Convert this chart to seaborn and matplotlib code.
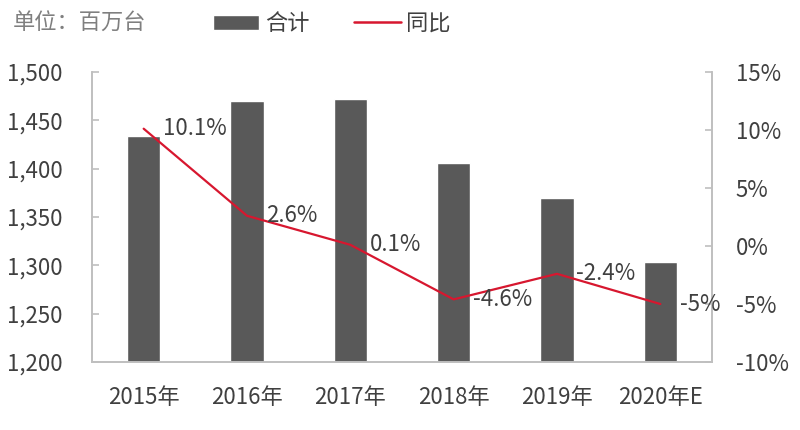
import matplotlib
matplotlib.use("Agg")
import matplotlib.pyplot as plt
import seaborn as sns
import pandas as pd
from matplotlib.lines import Line2D
from matplotlib.patches import Patch

years = ["2015年", "2016年", "2017年", "2018年", "2019年", "2020年E"]
totals = [1434, 1470, 1472, 1406, 1370, 1303]
yoy = [10.1, 2.6, 0.1, -4.6, -2.4, -5.0]
yoy_labels = ["10.1%", "2.6%", "0.1%", "-4.6%", "-2.4%", "-5%"]
left_ticks = [1200, 1250, 1300, 1350, 1400, 1450, 1500]
right_ticks = [-10, -5, 0, 5, 10, 15]

sns.set_theme(style="white")
plt.rcParams['font.family'] = ['Noto Sans CJK SC', 'DejaVu Sans']

txt = "#404040"
spine_c = "#BFBFBF"
bar_c = "#595959"
line_c = "#D7172F"
fs = 16

df = pd.DataFrame({"year": years, "total": totals, "yoy": yoy})

fig = plt.figure(figsize=(8, 4.3), dpi=100)
ax = fig.add_axes([0.115, 0.158, 0.775, 0.675])
sns.barplot(data=df, x="year", y="total", color=bar_c, width=0.32, ax=ax, saturation=1)
ax.set_ylim(1200, 1500)
ax.set_xlim(-0.5, 5.5)
ax.set_yticks(left_ticks)
ax.set_yticklabels([f"{v:,}" for v in left_ticks])
ax.set_xlabel("")
ax.set_ylabel("")

ax2 = ax.twinx()
ax2.plot(range(len(years)), yoy, color=line_c, lw=1.6)
ax2.set_ylim(-10, 15)
ax2.set_yticks(right_ticks)
ax2.set_yticklabels([f"{v}%" for v in right_ticks])
for i, (v, lab) in enumerate(zip(yoy, yoy_labels)):
    ax2.annotate(lab, (i, v), xytext=(14, 0), textcoords="offset points",
                 ha="left", va="center", fontsize=fs, color=txt)

for a in (ax, ax2):
    for s in a.spines.values():
        s.set_color(spine_c)
        s.set_linewidth(1.2)
    a.spines["top"].set_visible(False)
    a.tick_params(colors=spine_c, labelcolor=txt, labelsize=fs, direction="in", length=5, width=1.2)
ax.tick_params(axis="x", length=0, pad=17)
ax.tick_params(axis="y", pad=21)
ax2.tick_params(axis="y", pad=17)
# category separators on the x axis
ax.set_xticks([i + 0.5 for i in range(5)], minor=True)
ax.tick_params(axis="x", which="minor", direction="in", length=6, color=spine_c, width=1.2)

fig.text(0.016, 0.945, "单位：百万台", fontsize=fs, color="#7F7F7F", va="center")
handles = [Patch(facecolor=bar_c, label="合计"), Line2D([0], [0], color=line_c, lw=1.8, label="同比")]
fig.legend(handles=handles, loc="center left", bbox_to_anchor=(0.266, 0.945), ncol=2,
           frameon=False, fontsize=fs, labelcolor=txt, handlelength=2.1, handleheight=0.7,
           columnspacing=2.0, handletextpad=0.25, borderaxespad=0, borderpad=0)

fig.savefig("out.png", dpi=100)
